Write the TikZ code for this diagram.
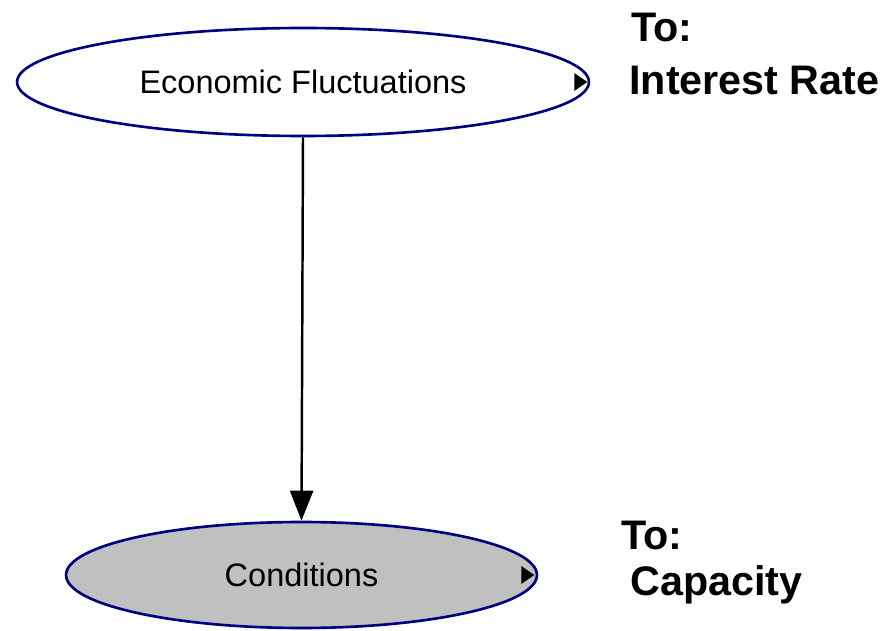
\documentclass[tikz,border=0pt]{standalone}
\usepackage{fontspec}
\setmainfont{Liberation Sans}
\usetikzlibrary{arrows.meta,shapes.geometric}
\definecolor{chanceNavy}{HTML}{000080}
\definecolor{chanceGray}{HTML}{C0C0C0}
\tikzset{
  chanceNode/.style={
    ellipse,
    draw=chanceNavy,
    line width=1.5pt,
    inner sep=0pt,
    font=\fontsize{18.5}{22}\selectfont
  },
  chanceArrow/.style={-{Triangle[length=6mm,width=4.6mm]}, line width=1.4pt, black},
  linkLabel/.style={
    anchor=base west,
    inner sep=0pt,
    font=\fontsize{23.5}{28}\selectfont\bfseries
  },
  outMark/.style={fill=black}
}

\begin{document}
\begin{tikzpicture}[x=0.02cm,y=-0.02cm]
  \useasboundingbox (0,0) rectangle (893,631);

  % chance nodes
  \node[chanceNode, fill=white, minimum width=11.44cm, minimum height=2.16cm]
    (econ) at (303,82) {Economic Fluctuations};
  \node[chanceNode, fill=chanceGray, minimum width=9.42cm, minimum height=2.12cm]
    (cond) at (301.5,575) {Conditions};

  % outgoing link markers
  \fill[outMark] (econ.east) ++(-16,-9) -- ++(13,9) -- ++(-13,9) -- cycle;
  \fill[outMark] (cond.east) ++(-17,-9) -- ++(13,9) -- ++(-13,9) -- cycle;

  \draw[chanceArrow] (econ.south) -- (cond.north);

  % link labels
  \node[linkLabel] (econTo) at (631,42) {To:};
  \node[linkLabel] (econTarget) at (629,95) {Interest Rate};
  \node[linkLabel] (condTo) at (621,550) {To:};
  \node[linkLabel] (condTarget) at (630,595) {Capacity};
\end{tikzpicture}
\end{document}
